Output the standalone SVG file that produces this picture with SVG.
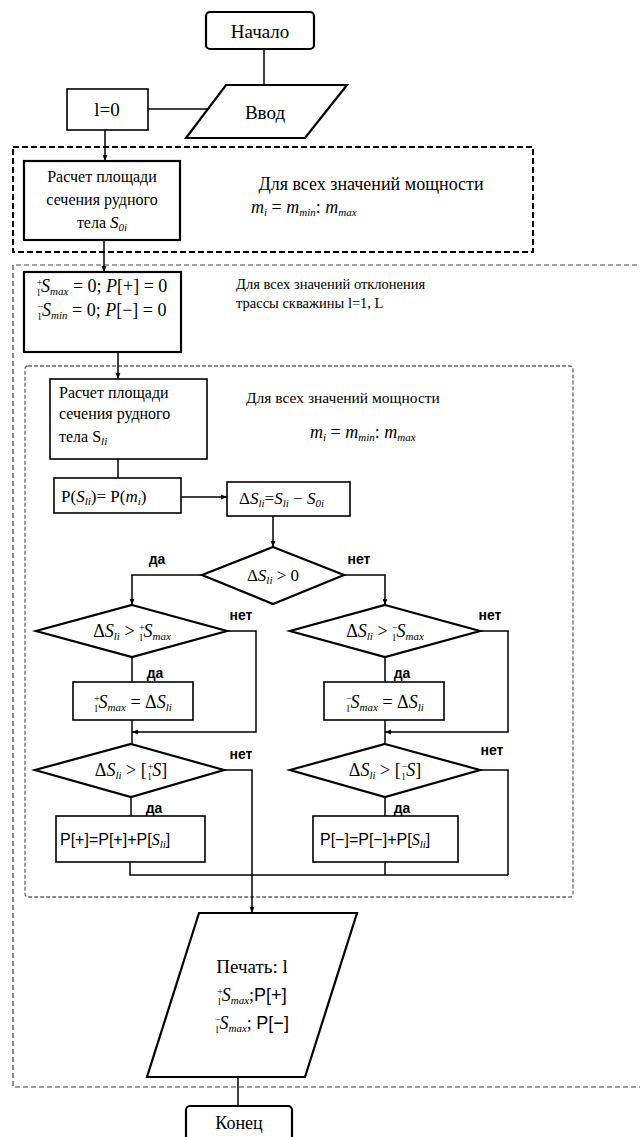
<svg xmlns="http://www.w3.org/2000/svg" width="640" height="1137" viewBox="0 0 640 1137" font-family="'Liberation Serif', serif" font-size="16">
<defs>
<marker id="ah" viewBox="0 0 10 10" refX="10" refY="5" markerWidth="6" markerHeight="6" orient="auto" markerUnits="userSpaceOnUse">
<path d="M0,1 L10,5 L0,9 z" fill="#000"/>
</marker>
<style>
.box{fill:#fff;stroke:#000;stroke-width:1.6}
.bold{stroke-width:2.2}
.ln{fill:none;stroke:#000;stroke-width:1.5}
.t{font-family:'Liberation Serif',serif;fill:#000}
.i{font-style:italic}
.sub{font-size:11px;font-style:italic}
.pre{font-size:10px;font-style:normal}
.lbl{font-family:'Liberation Sans',sans-serif;font-weight:bold;font-size:14px;fill:#000}
.s{font-family:'Liberation Sans',sans-serif}
.dashA{fill:none;stroke:#000;stroke-width:2;stroke-dasharray:6 3}
.dashB{fill:none;stroke:#444;stroke-width:1.2;stroke-dasharray:5 3}
.dashC{fill:none;stroke:#666;stroke-width:1.3;stroke-dasharray:4 2}
</style>
</defs>
<rect width="640" height="1137" fill="#fff"/>

<!-- loop frames -->
<g id="loops">
<rect class="dashA" x="13" y="147" width="520" height="105"/>
<path class="dashB" d="M645,265 H13 V1087 H645"/>
<rect class="dashC" x="25" y="366" width="548" height="531" rx="3"/>
</g>

<!-- connectors -->
<g id="connectors">
<path class="ln" d="M264,49 V85"/>
<path class="ln" d="M148,109 H208"/>
<path class="ln" d="M105,130 V161" marker-end="url(#ah)"/>
<path class="ln" d="M104,240 V272" marker-end="url(#ah)"/>
<path class="ln" d="M118,352 V379" marker-end="url(#ah)"/>
<path class="ln" d="M118,459 V478"/>
<path class="ln" d="M181,497 H227" stroke="#555" marker-end="url(#ah)"/>
<path class="ln" d="M273,516 V547" marker-end="url(#ah)"/>
<path class="ln" d="M202,575 H132 V605" marker-end="url(#ah)"/>
<path class="ln" d="M344,575 H385 V605" marker-end="url(#ah)"/>
<path class="ln" d="M132,657 V682"/>
<path class="ln" d="M227,631 H256 V732 H132" marker-end="url(#ah)"/>
<path class="ln" d="M132,720 V744"/>
<path class="ln" d="M385,657 V682"/>
<path class="ln" d="M480,631 H508 V732 H385" marker-end="url(#ah)"/>
<path class="ln" d="M385,720 V744"/>
<path class="ln" d="M131,797 V816"/>
<path class="ln" d="M385,797 V816"/>
<path class="ln" d="M224,770 H252 V913" marker-end="url(#ah)"/>
<path class="ln" d="M480,770 H508 V875"/>
<path class="ln" d="M130,862 V875 H508"/>
<path class="ln" d="M385,862 V875"/>
<path class="ln" d="M238,1077 V1106"/>
</g>

<g id="start">
<rect class="box bold" x="206" y="12" width="108" height="37" rx="4"/>
<text class="t" x="260" y="38" text-anchor="middle" font-size="19">Начало</text>
</g>

<g id="input">
<polygon class="box bold" points="226,85 347,85 305,138 186,138"/>
<text class="t" x="265" y="119" text-anchor="middle" font-size="19">Ввод</text>
</g>

<g id="init-l">
<rect class="box" x="67" y="89" width="81" height="41"/>
<text class="t" x="107" y="116" text-anchor="middle" font-size="19">l=0</text>
</g>

<g id="area0">
<rect class="box bold" x="24" y="161" width="156" height="79"/>
<text class="t" x="102" y="182" text-anchor="middle" font-size="16">Расчет площади</text>
<text class="t" x="102" y="205" text-anchor="middle" font-size="16">сечения рудного</text>
<text class="t" x="102" y="228" text-anchor="middle" font-size="16">тела <tspan class="i" font-size="17">S</tspan><tspan class="sub" dy="3">0i</tspan></text>
</g>

<g id="note-power-1">
<text class="t" x="371" y="190" text-anchor="middle" font-size="18">Для всех значений мощности</text>
<text class="t i" x="251" y="213" font-size="18">m<tspan class="sub" dy="3">i</tspan><tspan dy="-3" font-style="normal"> = </tspan>m<tspan class="sub" dy="3">min</tspan><tspan dy="-3" font-style="normal">: </tspan>m<tspan class="sub" dy="3">max</tspan></text>
</g>

<g id="reset">
<rect class="box bold" x="24" y="272" width="157" height="80"/>
<text class="t" x="102" y="292" text-anchor="middle" font-size="18"><tspan class="pre" dy="-6">+</tspan><tspan class="pre" dx="-5" dy="10">l</tspan><tspan class="i" dx="1" dy="-4">S</tspan><tspan class="sub" dy="3">max</tspan><tspan dy="-3"> = 0; </tspan><tspan class="i">P</tspan>[+] = 0</text>
<text class="t" x="102" y="316" text-anchor="middle" font-size="18"><tspan class="pre" dy="-6">−</tspan><tspan class="pre" dx="-5" dy="10">l</tspan><tspan class="i" dx="1" dy="-4">S</tspan><tspan class="sub" dy="3">min</tspan><tspan dy="-3"> = 0; </tspan><tspan class="i">P</tspan>[−] = 0</text>
</g>

<g id="note-deviation">
<text class="t" x="236" y="289" font-size="14.5">Для всех значений отклонения</text>
<text class="t" x="236" y="308" font-size="14.5">трассы скважины l=1, L</text>
</g>

<g id="area1">
<rect class="box" x="50" y="379" width="157" height="80"/>
<text class="t" x="59" y="398" font-size="16">Расчет площади</text>
<text class="t" x="59" y="419" font-size="16">сечения рудного</text>
<text class="t" x="59" y="442" font-size="16">тела S<tspan class="sub" dy="3" font-style="normal">li</tspan></text>
</g>

<g id="note-power-2">
<text class="t" x="246" y="403" font-size="15.5">Для всех значений мощности</text>
<text class="t i" x="310" y="438" font-size="18">m<tspan class="sub" dy="3">i</tspan><tspan dy="-3" font-style="normal"> = </tspan>m<tspan class="sub" dy="3">min</tspan><tspan dy="-3" font-style="normal">: </tspan>m<tspan class="sub" dy="3">max</tspan></text>
</g>

<g id="prob">
<rect class="box" x="54" y="478" width="127" height="35"/>
<text class="t" x="61" y="502" font-size="17">P(<tspan class="i">S</tspan><tspan class="sub" dy="3">li</tspan><tspan dy="-3">)= P(</tspan><tspan class="i">m</tspan><tspan class="sub" dy="3">i</tspan><tspan dy="-3">)</tspan></text>
</g>

<g id="delta">
<rect class="box" x="227" y="482" width="123" height="34"/>
<text class="t" x="239" y="504" font-size="17">Δ<tspan class="i">S</tspan><tspan class="sub" dy="3">li</tspan><tspan dy="-3">=</tspan><tspan class="i">S</tspan><tspan class="sub" dy="3">li</tspan><tspan dy="-3"> − </tspan><tspan class="i">S</tspan><tspan class="sub" dy="3">0i</tspan></text>
</g>

<g id="sign">
<polygon class="box bold" points="273,547 344,575 273,604 202,575"/>
<text class="t" x="273" y="581" text-anchor="middle" font-size="17">Δ<tspan class="i">S</tspan><tspan class="sub" dy="3">li</tspan><tspan dy="-3"> &gt; 0</tspan></text>
</g>

<g id="max-plus-test">
<polygon class="box bold" points="132,605 227,631 132,657 36,631"/>
<text class="t" x="132" y="637" text-anchor="middle" font-size="18">Δ<tspan class="i">S</tspan><tspan class="sub" dy="3">li</tspan><tspan dy="-3"> &gt; </tspan><tspan class="pre" dy="-6">+</tspan><tspan class="pre" dx="-5" dy="10">l</tspan><tspan class="i" dx="1" dy="-4">S</tspan><tspan class="sub" dy="3">max</tspan></text>
</g>

<g id="max-minus-test">
<polygon class="box bold" points="385,605 480,631 385,657 290,631"/>
<text class="t" x="385" y="637" text-anchor="middle" font-size="18">Δ<tspan class="i">S</tspan><tspan class="sub" dy="3">li</tspan><tspan dy="-3"> &gt; </tspan><tspan class="pre" dy="-6">−</tspan><tspan class="pre" dx="-5" dy="10">l</tspan><tspan class="i" dx="1" dy="-4">S</tspan><tspan class="sub" dy="3">max</tspan></text>
</g>

<g id="max-plus-set">
<rect class="box" x="73" y="682" width="120" height="38"/>
<text class="t" x="133" y="708" text-anchor="middle" font-size="18"><tspan class="pre" dy="-6">+</tspan><tspan class="pre" dx="-5" dy="10">l</tspan><tspan class="i" dx="1" dy="-4">S</tspan><tspan class="sub" dy="3">max</tspan><tspan dy="-3"> = Δ</tspan><tspan class="i">S</tspan><tspan class="sub" dy="3">li</tspan></text>
</g>

<g id="max-minus-set">
<rect class="box" x="324" y="682" width="120" height="38"/>
<text class="t" x="385" y="708" text-anchor="middle" font-size="18"><tspan class="pre" dy="-6">−</tspan><tspan class="pre" dx="-5" dy="10">l</tspan><tspan class="i" dx="1" dy="-4">S</tspan><tspan class="sub" dy="3">max</tspan><tspan dy="-3"> = Δ</tspan><tspan class="i">S</tspan><tspan class="sub" dy="3">li</tspan></text>
</g>

<g id="limit-plus-test">
<polygon class="box bold" points="131,744 224,770 131,797 35,770"/>
<text class="t" x="131" y="776" text-anchor="middle" font-size="18">Δ<tspan class="i">S</tspan><tspan class="sub" dy="3">li</tspan><tspan dy="-3"> &gt; [</tspan><tspan class="pre" dx="1" dy="-6">+</tspan><tspan class="pre" dx="-5" dy="10">l</tspan><tspan class="i" dx="1" dy="-4">S</tspan><tspan>]</tspan></text>
</g>

<g id="limit-minus-test">
<polygon class="box bold" points="385,744 480,770 385,797 290,770"/>
<text class="t" x="385" y="776" text-anchor="middle" font-size="18">Δ<tspan class="i">S</tspan><tspan class="sub" dy="3">li</tspan><tspan dy="-3"> &gt; [</tspan><tspan class="pre" dx="1" dy="-6">−</tspan><tspan class="pre" dx="-5" dy="10">l</tspan><tspan class="i" dx="1" dy="-4">S</tspan><tspan>]</tspan></text>
</g>

<g id="acc-plus">
<rect class="box" x="56" y="816" width="149" height="46"/>
<text class="t s" x="60" y="845" font-size="16">P[+]=P[+]+P[<tspan class="i" font-family="'Liberation Serif', serif">S</tspan><tspan class="sub" dy="3" font-family="'Liberation Serif', serif">li</tspan><tspan dy="-3">]</tspan></text>
</g>

<g id="acc-minus">
<rect class="box" x="313" y="816" width="145" height="46"/>
<text class="t s" x="320" y="845" font-size="16">P[−]=P[−]+P[<tspan class="i" font-family="'Liberation Serif', serif">S</tspan><tspan class="sub" dy="3" font-family="'Liberation Serif', serif">li</tspan><tspan dy="-3">]</tspan></text>
</g>

<g id="branch-labels">
<text class="lbl" x="157" y="564" text-anchor="middle">да</text>
<text class="lbl" x="359" y="564" text-anchor="middle">нет</text>
<text class="lbl" x="241" y="620" text-anchor="middle">нет</text>
<text class="lbl" x="490" y="620" text-anchor="middle">нет</text>
<text class="lbl" x="155" y="678" text-anchor="middle">да</text>
<text class="lbl" x="402" y="678" text-anchor="middle">да</text>
<text class="lbl" x="241" y="759" text-anchor="middle">нет</text>
<text class="lbl" x="492" y="755" text-anchor="middle">нет</text>
<text class="lbl" x="154" y="813" text-anchor="middle">да</text>
<text class="lbl" x="402" y="813" text-anchor="middle">да</text>
</g>

<g id="print">
<polygon class="box bold" points="199,913 357,913 305,1077 147,1077"/>
<text class="t" x="252" y="973" text-anchor="middle" font-size="19">Печать: l</text>
<text class="t" x="252" y="1001" text-anchor="middle" font-size="18"><tspan class="pre" dy="-6">+</tspan><tspan class="pre" dx="-5" dy="10">l</tspan><tspan class="i" dx="1" dy="-4">S</tspan><tspan class="sub" dy="3">max</tspan><tspan dy="-3">;</tspan><tspan class="s">P[+]</tspan></text>
<text class="t" x="252" y="1029" text-anchor="middle" font-size="18"><tspan class="pre" dy="-6">−</tspan><tspan class="pre" dx="-5" dy="10">l</tspan><tspan class="i" dx="1" dy="-4">S</tspan><tspan class="sub" dy="3">max</tspan><tspan dy="-3">;  </tspan><tspan class="s">P[−]</tspan></text>
</g>

<g id="end">
<rect class="box bold" x="186" y="1106" width="106" height="45" rx="4"/>
<text class="t" x="239" y="1129" text-anchor="middle" font-size="18">Конец</text>
</g>
</svg>
